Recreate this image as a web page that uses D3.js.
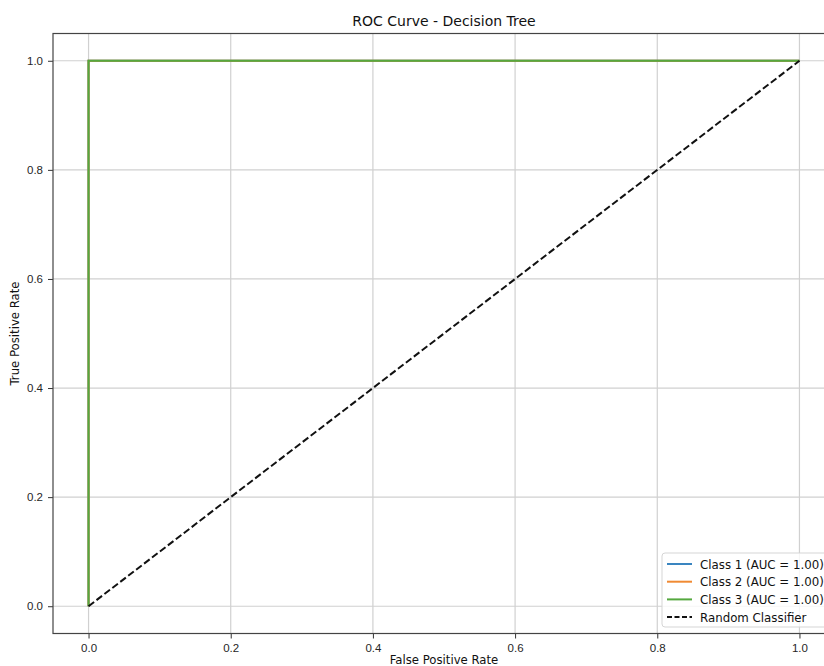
<!DOCTYPE html>
<html>
<head>
<meta charset="utf-8">
<script src="https://cdn.jsdelivr.net/npm/d3@7"></script>
<style>
  body { margin: 0; background: #fff; }
  svg { font-family: "DejaVu Sans", sans-serif; }
</style>
</head>
<body>
<div class="canvas"></div>
<script>
// ROC data per class
const classNames = ['Class 1', 'Class 2', 'Class 3'];
const classAuc = [1.00, 1.00, 1.00];
const classFpr = [[0, 0, 1], [0, 0, 1], [0, 0, 1]];
const classTpr = [[0, 1, 1], [0, 1, 1], [0, 1, 1]];
const classColors = ['#3a85c0', '#f08a33', '#55a83f'];
const randomLine = [[0, 0], [1, 1]];
const tickValues = [0, 0.2, 0.4, 0.6, 0.8, 1.0];

const dims = { width: 824, height: 666 };
const plot = { left: 53, right: 835, top: 33.5, bottom: 633.5 };

const svg = d3.select('.canvas')
    .append('svg')
    .attr('width', dims.width)
    .attr('height', dims.height);

const x = d3.scaleLinear().domain([-0.05, 1.05]).range([plot.left, plot.right]);
const y = d3.scaleLinear().domain([-0.05, 1.05]).range([plot.bottom, plot.top]);

// grid
const grid = svg.append('g');
grid.selectAll('line.gx')
    .data(tickValues)
    .enter().append('line')
    .attr('x1', d => x(d)).attr('x2', d => x(d))
    .attr('y1', plot.top).attr('y2', plot.bottom)
    .attr('stroke', '#d0d0d0').attr('stroke-width', 1.2);
grid.selectAll('line.gy')
    .data(tickValues)
    .enter().append('line')
    .attr('y1', d => y(d)).attr('y2', d => y(d))
    .attr('x1', plot.left).attr('x2', plot.right)
    .attr('stroke', '#d0d0d0').attr('stroke-width', 1.2);

// axes
const xAxis = d3.axisBottom(x).tickValues(tickValues).tickFormat(d3.format('.1f'))
    .tickSize(5).tickPadding(5);
const yAxis = d3.axisLeft(y).tickValues(tickValues).tickFormat(d3.format('.1f'))
    .tickSize(5).tickPadding(5);

svg.append('g')
    .attr('transform', `translate(0, ${plot.bottom})`)
    .call(xAxis)
    .call(g => g.select('.domain').remove());
svg.append('g')
    .attr('transform', `translate(${plot.left}, 0)`)
    .call(yAxis)
    .call(g => g.select('.domain').remove());

svg.selectAll('.tick text').attr('font-size', 11.5).attr('fill', '#262626');
svg.selectAll('.tick line').attr('stroke', '#333');

// spines
svg.append('rect')
    .attr('x', plot.left).attr('y', plot.top)
    .attr('width', plot.right - plot.left).attr('height', plot.bottom - plot.top)
    .attr('fill', 'none').attr('stroke', '#444').attr('stroke-width', 1.2);

// lines
const line = d3.line().x(d => x(d[0])).y(d => y(d[1]));

classNames.forEach((name, i) => {
    const pts = classFpr[i].map((f, j) => [f, classTpr[i][j]]);
    svg.append('path')
        .datum(pts)
        .attr('d', line)
        .attr('fill', 'none')
        .attr('stroke', classColors[i])
        .attr('stroke-width', 2);
});

svg.append('path')
    .datum(randomLine)
    .attr('d', line)
    .attr('fill', 'none')
    .attr('stroke', '#111')
    .attr('stroke-width', 2)
    .attr('stroke-dasharray', '7,3');

// title and labels
svg.append('text')
    .attr('x', (plot.left + plot.right) / 2).attr('y', 26)
    .attr('text-anchor', 'middle')
    .attr('font-size', 14).attr('fill', '#111')
    .text('ROC Curve - Decision Tree');

svg.append('text')
    .attr('x', (plot.left + plot.right) / 2).attr('y', 664)
    .attr('text-anchor', 'middle')
    .attr('font-size', 11.7).attr('fill', '#111')
    .text('False Positive Rate');

svg.append('text')
    .attr('transform', `translate(19, ${(plot.top + plot.bottom) / 2}) rotate(-90)`)
    .attr('text-anchor', 'middle')
    .attr('font-size', 11.7).attr('fill', '#111')
    .text('True Positive Rate');

// legend
const legendItems = classNames.map((n, i) => ({
    label: `${n} (AUC = ${classAuc[i].toFixed(2)})`, color: classColors[i], dash: null
}));
legendItems.push({ label: 'Random Classifier', color: '#111', dash: '5,2.5' });

const legendGroup = svg.append('g').attr('transform', 'translate(662, 553)');
legendGroup.append('rect')
    .attr('width', 175).attr('height', 74)
    .attr('rx', 3)
    .attr('fill', 'rgba(255,255,255,0.8)')
    .attr('stroke', '#d5d5d5');

const rows = legendGroup.selectAll('g.row')
    .data(legendItems)
    .enter().append('g')
    .attr('transform', (d, i) => `translate(0, ${11 + i * 17.7})`);
rows.append('line')
    .attr('x1', 5).attr('x2', 30)
    .attr('stroke', d => d.color).attr('stroke-width', 2)
    .attr('stroke-dasharray', d => d.dash);
rows.append('text')
    .attr('x', 38).attr('y', 4.5)
    .attr('font-size', 11.8).attr('fill', '#111')
    .text(d => d.label);
</script>
</body>
</html>
